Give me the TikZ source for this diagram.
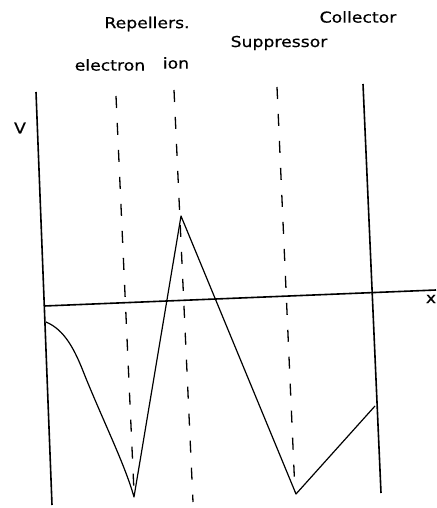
\documentclass[tikz,border=0pt]{standalone}
\usepackage{fontspec}
\newfontfamily\lblfont[FakeStretch=1.15,FakeBold=0.5]{DejaVu Sans}
\begin{document}
\begin{tikzpicture}[x=1pt,y=-1pt,
  solid line/.style={line width=1.6pt},
  grid dash/.style={line width=1.3pt,dash pattern=on 12pt off 15pt},
  curve line/.style={line width=1.2pt,line join=round},
  lbl/.style={font=\lblfont\fontsize{15}{17}\selectfont,inner sep=0pt}]
\useasboundingbox (0,0) rectangle (436,508);
% coordinates
\coordinate (Lt) at (36,92);
\coordinate (Lb) at (52,505);
\coordinate (Ct) at (363,84);
\coordinate (Cb) at (381,493);
\coordinate (Ax0) at (44,306);
\coordinate (Ax1) at (436,290);
\coordinate (Et) at (116,96);
\coordinate (Eb) at (134,492);
\coordinate (It) at (174,90);
\coordinate (Ib) at (193,502);
\coordinate (St) at (277,87);
\coordinate (Sb) at (295,492);
\coordinate (P0) at (46,322);
\coordinate (Pm) at (85,376);
\coordinate (Emin) at (134,497);
\coordinate (Peak) at (181,216);
\coordinate (Smin) at (296,494);
\coordinate (Cend) at (375,406);
% electrodes and axis
\draw[solid line] (Lt) -- (Lb);
\draw[solid line] (Ct) -- (Cb);
\draw[solid line] (Ax0) -- (Ax1);
\draw[grid dash] (Et) -- (Eb);
\draw[grid dash] (It) -- (Ib);
\draw[grid dash] (St) -- (Sb);
% potential curve
\draw[curve line] (P0) .. controls (65,330) and (75,350) .. (Pm)
  .. controls (105,425) and (125,465) .. (Emin)
  -- (Peak) -- (Smin) -- (Cend);
% labels
\node[lbl] (repl) at (147,24) {Repellers.};
\node[lbl] (elec) at (110,65) {electron};
\node[lbl] (ion) at (176,63) {ion};
\node[lbl] (supp) at (279,43) {Suppressor};
\node[lbl] (coll) at (358,17) {Collector};
\node[lbl] (vlab) at (20,128) {V};
\node[lbl] (xlab) at (431,299) {x};
\end{tikzpicture}
\end{document}
